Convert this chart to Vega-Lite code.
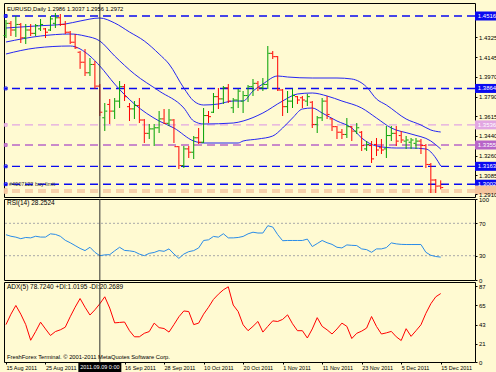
{
 "$schema": "https://vega.github.io/schema/vega-lite/v6.json",
 "background": "#FFFAD2",
 "padding": {"left": 1, "top": 2, "right": 0, "bottom": 0},
 "bounds": "flush",
 "spacing": 2,
 "config": {
  "font": "Liberation Sans",
  "view": {"stroke": "#000000", "strokeWidth": 1, "fill": "#FFFAD2"},
  "axis": {"labelFont": "Liberation Sans", "labelFontSize": 6, "labelColor": "#000000", "tickColor": "#000000", "tickSize": 2, "labelPadding": 1.5, "domain": false, "grid": false, "labelOverlap": false, "labelBound": false, "labelFlush": false},
  "title": {"anchor": "start", "font": "Liberation Sans", "fontSize": 6.5, "fontWeight": "normal", "color": "#000000", "frame": "group"}
 },
 "datasets": {
  "bars": [
   {"i":0,"o":1.4340,"h":1.4480,"l":1.4318,"c":1.4450,"rsi":55.9,"adx":43},
   {"i":1,"o":1.4450,"h":1.4471,"l":1.4336,"c":1.4390,"rsi":54,"adx":55},
   {"i":2,"o":1.4390,"h":1.4516,"l":1.4327,"c":1.4440,"rsi":52.9,"adx":65},
   {"i":3,"o":1.4440,"h":1.4453,"l":1.4273,"c":1.4320,"rsi":51,"adx":55},
   {"i":4,"o":1.4320,"h":1.4444,"l":1.4264,"c":1.4390,"rsi":52.5,"adx":43},
   {"i":5,"o":1.4390,"h":1.4444,"l":1.4336,"c":1.4360,"rsi":52,"adx":25},
   {"i":6,"o":1.4360,"h":1.4444,"l":1.4336,"c":1.4430,"rsi":54,"adx":35},
   {"i":7,"o":1.4400,"h":1.4489,"l":1.4381,"c":1.4440,"rsi":53,"adx":45.8},
   {"i":8,"o":1.4400,"h":1.4408,"l":1.4318,"c":1.4370,"rsi":53,"adx":38},
   {"i":9,"o":1.4390,"h":1.4516,"l":1.4381,"c":1.4490,"rsi":57,"adx":30.5},
   {"i":10,"o":1.4450,"h":1.4543,"l":1.4408,"c":1.4500,"rsi":56.3,"adx":35},
   {"i":11,"o":1.4500,"h":1.4534,"l":1.4426,"c":1.4440,"rsi":54,"adx":37},
   {"i":12,"o":1.4440,"h":1.4471,"l":1.4354,"c":1.4370,"rsi":49,"adx":40},
   {"i":13,"o":1.4370,"h":1.4381,"l":1.4264,"c":1.4280,"rsi":46,"adx":52},
   {"i":14,"o":1.4280,"h":1.4354,"l":1.4219,"c":1.4230,"rsi":42.5,"adx":63},
   {"i":15,"o":1.4190,"h":1.4201,"l":1.4040,"c":1.4100,"rsi":39,"adx":73},
   {"i":16,"o":1.4100,"h":1.4219,"l":1.3976,"c":1.4005,"rsi":36.3,"adx":63},
   {"i":17,"o":1.4005,"h":1.4138,"l":1.3976,"c":1.4080,"rsi":40.4,"adx":54},
   {"i":18,"o":1.4080,"h":1.4111,"l":1.3859,"c":1.3885,"rsi":34.2,"adx":60},
   {"i":19,"o":1.3885,"h":1.3904,"l":1.3616,"c":1.3650,"rsi":30,"adx":67},
   {"i":20,"o":1.3600,"h":1.3733,"l":1.3481,"c":1.3660,"rsi":31,"adx":75},
   {"i":21,"o":1.3720,"h":1.3769,"l":1.3544,"c":1.3660,"rsi":31.3,"adx":62},
   {"i":22,"o":1.3660,"h":1.3778,"l":1.3589,"c":1.3750,"rsi":36,"adx":45},
   {"i":23,"o":1.3750,"h":1.3931,"l":1.3688,"c":1.3880,"rsi":40.4,"adx":45.5},
   {"i":24,"o":1.3880,"h":1.3904,"l":1.3751,"c":1.3790,"rsi":36.5,"adx":46},
   {"i":25,"o":1.3700,"h":1.3733,"l":1.3571,"c":1.3680,"rsi":36,"adx":36},
   {"i":26,"o":1.3680,"h":1.3751,"l":1.3589,"c":1.3710,"rsi":35,"adx":29},
   {"i":27,"o":1.3710,"h":1.3778,"l":1.3553,"c":1.3580,"rsi":32,"adx":29},
   {"i":28,"o":1.3580,"h":1.3589,"l":1.3373,"c":1.3460,"rsi":30,"adx":33},
   {"i":29,"o":1.3460,"h":1.3544,"l":1.3409,"c":1.3500,"rsi":32.9,"adx":35},
   {"i":30,"o":1.3500,"h":1.3544,"l":1.3346,"c":1.3510,"rsi":34,"adx":44.7},
   {"i":31,"o":1.3510,"h":1.3661,"l":1.3463,"c":1.3590,"rsi":36.3,"adx":39.5},
   {"i":32,"o":1.3590,"h":1.3679,"l":1.3544,"c":1.3550,"rsi":35.4,"adx":38.5},
   {"i":33,"o":1.3550,"h":1.3679,"l":1.3526,"c":1.3580,"rsi":38.4,"adx":34.4},
   {"i":34,"o":1.3580,"h":1.3589,"l":1.3373,"c":1.3340,"rsi":32.1,"adx":43},
   {"i":35,"o":1.3340,"h":1.3346,"l":1.3139,"c":1.3170,"rsi":26.7,"adx":52},
   {"i":36,"o":1.3170,"h":1.3346,"l":1.3148,"c":1.3320,"rsi":32,"adx":58.7},
   {"i":37,"o":1.3320,"h":1.3346,"l":1.3238,"c":1.3290,"rsi":35,"adx":58},
   {"i":38,"o":1.3290,"h":1.3436,"l":1.3229,"c":1.3420,"rsi":36.3,"adx":43},
   {"i":39,"o":1.3420,"h":1.3508,"l":1.3364,"c":1.3380,"rsi":39.6,"adx":44.7},
   {"i":40,"o":1.3380,"h":1.3688,"l":1.3373,"c":1.3620,"rsi":48.8,"adx":55},
   {"i":41,"o":1.3620,"h":1.3661,"l":1.3553,"c":1.3610,"rsi":49.6,"adx":63},
   {"i":42,"o":1.3650,"h":1.3823,"l":1.3643,"c":1.3790,"rsi":53.8,"adx":72},
   {"i":43,"o":1.3790,"h":1.3868,"l":1.3679,"c":1.3770,"rsi":52.9,"adx":78},
   {"i":44,"o":1.3770,"h":1.3886,"l":1.3724,"c":1.3870,"rsi":57.1,"adx":83},
   {"i":45,"o":1.3870,"h":1.3904,"l":1.3733,"c":1.3750,"rsi":52,"adx":86.5},
   {"i":46,"o":1.3690,"h":1.3778,"l":1.3643,"c":1.3760,"rsi":52,"adx":65.5},
   {"i":47,"o":1.3760,"h":1.3859,"l":1.3688,"c":1.3840,"rsi":52.5,"adx":58},
   {"i":48,"o":1.3750,"h":1.3841,"l":1.3643,"c":1.3800,"rsi":53.8,"adx":42.8},
   {"i":49,"o":1.3800,"h":1.3895,"l":1.3742,"c":1.3880,"rsi":57,"adx":36},
   {"i":50,"o":1.3880,"h":1.3949,"l":1.3796,"c":1.3910,"rsi":59,"adx":41},
   {"i":51,"o":1.3910,"h":1.3931,"l":1.3841,"c":1.3870,"rsi":58,"adx":46.6},
   {"i":52,"o":1.3870,"h":1.3958,"l":1.3841,"c":1.3900,"rsi":58,"adx":34.4},
   {"i":53,"o":1.3900,"h":1.4246,"l":1.3859,"c":1.4180,"rsi":67,"adx":41},
   {"i":54,"o":1.4180,"h":1.4201,"l":1.4129,"c":1.4150,"rsi":65.4,"adx":47.3},
   {"i":55,"o":1.4150,"h":1.4156,"l":1.3841,"c":1.3850,"rsi":56,"adx":46.6},
   {"i":56,"o":1.3850,"h":1.3859,"l":1.3616,"c":1.3700,"rsi":48.5,"adx":49},
   {"i":57,"o":1.3700,"h":1.3841,"l":1.3643,"c":1.3750,"rsi":48.8,"adx":54.2},
   {"i":58,"o":1.3750,"h":1.3859,"l":1.3688,"c":1.3800,"rsi":48.8,"adx":44},
   {"i":59,"o":1.3790,"h":1.3796,"l":1.3724,"c":1.3760,"rsi":48.8,"adx":36},
   {"i":60,"o":1.3780,"h":1.3796,"l":1.3688,"c":1.3760,"rsi":48.8,"adx":36},
   {"i":61,"o":1.3750,"h":1.3814,"l":1.3706,"c":1.3790,"rsi":50.5,"adx":27.6},
   {"i":62,"o":1.3740,"h":1.3751,"l":1.3508,"c":1.3540,"rsi":41.3,"adx":38},
   {"i":63,"o":1.3540,"h":1.3616,"l":1.3463,"c":1.3600,"rsi":45,"adx":51},
   {"i":64,"o":1.3600,"h":1.3778,"l":1.3571,"c":1.3750,"rsi":48.8,"adx":41},
   {"i":65,"o":1.3750,"h":1.3796,"l":1.3589,"c":1.3630,"rsi":46,"adx":37},
   {"i":66,"o":1.3590,"h":1.3598,"l":1.3481,"c":1.3520,"rsi":44,"adx":32.2},
   {"i":67,"o":1.3520,"h":1.3526,"l":1.3409,"c":1.3470,"rsi":40.4,"adx":38},
   {"i":68,"o":1.3470,"h":1.3499,"l":1.3409,"c":1.3450,"rsi":39.6,"adx":44.7},
   {"i":69,"o":1.3450,"h":1.3598,"l":1.3418,"c":1.3520,"rsi":43.3,"adx":41},
   {"i":70,"o":1.3520,"h":1.3526,"l":1.3391,"c":1.3480,"rsi":42.8,"adx":27},
   {"i":71,"o":1.3480,"h":1.3553,"l":1.3454,"c":1.3510,"rsi":42.5,"adx":33},
   {"i":72,"o":1.3470,"h":1.3481,"l":1.3301,"c":1.3350,"rsi":38.4,"adx":35.5},
   {"i":73,"o":1.3320,"h":1.3391,"l":1.3301,"c":1.3360,"rsi":37.5,"adx":39},
   {"i":74,"o":1.3350,"h":1.3391,"l":1.3193,"c":1.3230,"rsi":34.2,"adx":52.3},
   {"i":75,"o":1.3360,"h":1.3418,"l":1.3256,"c":1.3310,"rsi":38.4,"adx":40.9},
   {"i":76,"o":1.3330,"h":1.3409,"l":1.3274,"c":1.3310,"rsi":38.4,"adx":32.2},
   {"i":77,"o":1.3320,"h":1.3526,"l":1.3238,"c":1.3440,"rsi":40,"adx":33.5},
   {"i":78,"o":1.3440,"h":1.3526,"l":1.3391,"c":1.3460,"rsi":45.8,"adx":35.2},
   {"i":79,"o":1.3460,"h":1.3526,"l":1.3346,"c":1.3390,"rsi":44.6,"adx":29},
   {"i":80,"o":1.3440,"h":1.3481,"l":1.3373,"c":1.3400,"rsi":44,"adx":24.7},
   {"i":81,"o":1.3390,"h":1.3436,"l":1.3319,"c":1.3400,"rsi":43.8,"adx":38.3},
   {"i":82,"o":1.3380,"h":1.3418,"l":1.3319,"c":1.3400,"rsi":43.8,"adx":29.5},
   {"i":83,"o":1.3370,"h":1.3418,"l":1.3319,"c":1.3390,"rsi":43.8,"adx":36},
   {"i":84,"o":1.3390,"h":1.3409,"l":1.3274,"c":1.3350,"rsi":43.8,"adx":42.8},
   {"i":85,"o":1.3350,"h":1.3364,"l":1.3148,"c":1.3180,"rsi":34.2,"adx":56},
   {"i":86,"o":1.3180,"h":1.3193,"l":1.2923,"c":1.3040,"rsi":30.5,"adx":67},
   {"i":87,"o":1.3040,"h":1.3049,"l":1.2923,"c":1.2985,"rsi":29,"adx":75},
   {"i":88,"o":1.2986,"h":1.3037,"l":1.2956,"c":1.2972,"rsi":28.25,"adx":78.7}
  ],
  "bands": [
   {"b":"upper","i":0,"v":1.4408},{"b":"upper","i":6,"v":1.4426},{"b":"upper","i":12,"v":1.4444},{"b":"upper","i":15,"v":1.4471},{"b":"upper","i":19,"v":1.4498},{"b":"upper","i":22,"v":1.4453},{"b":"upper","i":25,"v":1.4372},{"b":"upper","i":28,"v":1.4291},{"b":"upper","i":31,"v":1.4174},{"b":"upper","i":33,"v":1.4084},{"b":"upper","i":36,"v":1.3868},{"b":"upper","i":38,"v":1.3751},{"b":"upper","i":40,"v":1.3715},{"b":"upper","i":43,"v":1.3724},{"b":"upper","i":46,"v":1.3751},{"b":"upper","i":48,"v":1.3751},{"b":"upper","i":50,"v":1.3841},{"b":"upper","i":52,"v":1.3904},{"b":"upper","i":55,"v":1.3976},{"b":"upper","i":57,"v":1.3967},{"b":"upper","i":62,"v":1.3958},{"b":"upper","i":67,"v":1.3958},{"b":"upper","i":70,"v":1.3949},{"b":"upper","i":73,"v":1.3877},{"b":"upper","i":75,"v":1.3769},{"b":"upper","i":77,"v":1.3715},{"b":"upper","i":81,"v":1.3589},{"b":"upper","i":84,"v":1.3535},{"b":"upper","i":86,"v":1.3490},{"b":"upper","i":88,"v":1.3472},
   {"b":"mid","i":0,"v":1.4282},{"b":"mid","i":7,"v":1.4336},{"b":"mid","i":13,"v":1.4354},{"b":"mid","i":16,"v":1.4336},{"b":"mid","i":19,"v":1.4291},{"b":"mid","i":22,"v":1.4156},{"b":"mid","i":26,"v":1.3994},{"b":"mid","i":31,"v":1.3841},{"b":"mid","i":36,"v":1.3688},{"b":"mid","i":38,"v":1.3571},{"b":"mid","i":40,"v":1.3544},{"b":"mid","i":46,"v":1.3553},{"b":"mid","i":48,"v":1.3571},{"b":"mid","i":52,"v":1.3643},{"b":"mid","i":56,"v":1.3751},{"b":"mid","i":59,"v":1.3814},{"b":"mid","i":62,"v":1.3823},{"b":"mid","i":65,"v":1.3796},{"b":"mid","i":68,"v":1.3751},{"b":"mid","i":72,"v":1.3688},{"b":"mid","i":75,"v":1.3598},{"b":"mid","i":78,"v":1.3508},{"b":"mid","i":82,"v":1.3454},{"b":"mid","i":86,"v":1.3391},{"b":"mid","i":88,"v":1.3319},
   {"b":"lower","i":0,"v":1.4174},{"b":"lower","i":6,"v":1.4228},{"b":"lower","i":13,"v":1.4246},{"b":"lower","i":17,"v":1.4156},{"b":"lower","i":19,"v":1.4066},{"b":"lower","i":22,"v":1.3904},{"b":"lower","i":26,"v":1.3724},{"b":"lower","i":31,"v":1.3571},{"b":"lower","i":34,"v":1.3508},{"b":"lower","i":38,"v":1.3391},{"b":"lower","i":40,"v":1.3373},{"b":"lower","i":47,"v":1.3373},{"b":"lower","i":48,"v":1.3391},{"b":"lower","i":51,"v":1.3409},{"b":"lower","i":54,"v":1.3436},{"b":"lower","i":56,"v":1.3508},{"b":"lower","i":58,"v":1.3598},{"b":"lower","i":60,"v":1.3679},{"b":"lower","i":62,"v":1.3688},{"b":"lower","i":64,"v":1.3643},{"b":"lower","i":67,"v":1.3571},{"b":"lower","i":70,"v":1.3508},{"b":"lower","i":72,"v":1.3418},{"b":"lower","i":75,"v":1.3346},{"b":"lower","i":79,"v":1.3328},{"b":"lower","i":82,"v":1.3328},{"b":"lower","i":85,"v":1.3319},{"b":"lower","i":87,"v":1.3238},{"b":"lower","i":88,"v":1.3166}
  ],
  "levels": [
   {"p":1.4516,"t":"blue"},{"p":1.3864,"t":"blue"},{"p":1.3536,"t":"violet"},{"p":1.3355,"t":"purple"},{"p":1.3163,"t":"blue"},{"p":1.3002,"t":"blue"},{"p":1.2950,"t":"peach"},{"p":1.2932,"t":"peach"}
  ]
 },
 "vconcat": [
  {
   "width": 471, "height": 194,
   "title": {"text": "EURUSD,Daily  1.2986 1.3037 1.2956 1.2972", "offset": -9, "dx": 3, "fontSize": 5.8},
   "encoding": {
    "y": {"field": "p", "type": "quantitative", "scale": {"domain": [1.2887, 1.4633], "nice": false, "zero": false}, "axis": {"orient": "right", "values": [1.2910, 1.3085, 1.3260, 1.3440, 1.3615, 1.3790, 1.3970, 1.4145, 1.4325], "format": ".4f", "title": null, "zindex": 1}}
   },
   "layer": [
    {
     "data": {"name": "levels"},
     "mark": {"type": "rule", "strokeDash": [8, 5], "strokeWidth": 1.4},
     "encoding": {
      "color": {"field": "t", "type": "nominal", "scale": {"domain": ["blue", "violet", "purple", "peach"], "range": ["#0A0AF0", "#E2A6E2", "#B865C8", "#F5C49E"]}, "legend": null}
     }
    },
    {
     "data": {"name": "bands"},
     "mark": {"type": "line", "color": "#2626F2", "strokeWidth": 1, "interpolate": "monotone"},
     "encoding": {
      "x": {"field": "i", "type": "quantitative", "scale": {"domain": [-0.4, 94.94], "nice": false, "zero": false}, "axis": null},
      "y": {"field": "v", "type": "quantitative"},
      "detail": {"field": "b", "type": "nominal"}
     }
    },
    {
     "data": {"name": "levels"},
     "mark": {"type": "point", "shape": "square", "size": 8, "filled": false, "strokeWidth": 1, "opacity": 1},
     "encoding": {
      "x": {"datum": -0.05, "axis": null},
      "color": {"field": "t", "type": "nominal", "legend": null}
     }
    },
    {
     "data": {"name": "bars"},
     "mark": {"type": "rule", "strokeWidth": 1},
     "encoding": {
      "x": {"field": "i", "type": "quantitative", "axis": null},
      "y": {"field": "l", "type": "quantitative"},
      "y2": {"field": "h"},
      "color": {"condition": {"test": "datum.c >= datum.o", "value": "#00A000"}, "value": "#FF0000"}
     }
    },
    {
     "data": {"name": "bars"},
     "mark": {"type": "tick", "orient": "horizontal", "size": 2, "thickness": 1, "xOffset": -1.5, "opacity": 1},
     "encoding": {
      "x": {"field": "i", "type": "quantitative", "axis": null},
      "y": {"field": "o", "type": "quantitative"},
      "color": {"condition": {"test": "datum.c >= datum.o", "value": "#00A000"}, "value": "#FF0000"}
     }
    },
    {
     "data": {"name": "bars"},
     "mark": {"type": "tick", "orient": "horizontal", "size": 2, "thickness": 1, "xOffset": 1.5, "opacity": 1},
     "encoding": {
      "x": {"field": "i", "type": "quantitative", "axis": null},
      "y": {"field": "c", "type": "quantitative"},
      "color": {"condition": {"test": "datum.c >= datum.o", "value": "#00A000"}, "value": "#FF0000"}
     }
    },
    {
     "data": {"values": [{"s": "crosshair"}]},
     "mark": {"type": "rule", "color": "#303030", "strokeWidth": 1},
     "encoding": {"x": {"datum": 19, "axis": null}, "y": null}
    },
    {
     "data": {"values": [{"p": 1.3002, "s": "#4007122 buy limit"}]},
     "mark": {"type": "text", "align": "left", "baseline": "middle", "fontSize": 5.5, "color": "#333333", "dx": 1},
     "encoding": {
      "x": {"datum": 0.4, "axis": null},
      "text": {"field": "s"}
     }
    },
    {
     "data": {"name": "levels"},
     "transform": [{"filter": "datum.p != 1.2932"}],
     "mark": {"type": "tick", "orient": "horizontal", "size": 24, "thickness": 9, "opacity": 1},
     "encoding": {
      "x": {"datum": 97.37, "axis": null},
      "color": {"field": "t", "type": "nominal", "legend": null}
     }
    },
    {
     "data": {"name": "levels"},
     "transform": [{"filter": "datum.t != 'peach'"}],
     "mark": {"type": "text", "fontSize": 6, "color": "#FFFFFF", "align": "center", "baseline": "middle"},
     "encoding": {
      "x": {"datum": 97.37, "axis": null},
      "text": {"field": "p", "type": "quantitative", "format": ".4f"}
     }
    }
   ]
  },
  {
   "width": 471, "height": 81,
   "title": {"text": "RSI(14) 28.2524", "offset": -10, "dx": 3},
   "encoding": {
    "x": {"field": "i", "type": "quantitative", "scale": {"domain": [-0.4, 94.94], "nice": false, "zero": false}, "axis": null},
    "y": {"field": "rsi", "type": "quantitative", "scale": {"domain": [0, 100], "nice": false, "zero": false}, "axis": {"orient": "right", "values": [0, 30, 70, 100], "title": null}}
   },
   "layer": [
    {
     "data": {"values": [{"rsi": 30}, {"rsi": 70}]},
     "mark": {"type": "rule", "color": "#A8A8A8", "strokeDash": [2, 2], "strokeWidth": 1},
     "encoding": {"x": null}
    },
    {
     "data": {"name": "bars"},
     "mark": {"type": "line", "color": "#2A8CE8", "strokeWidth": 1}
    },
    {
     "data": {"values": [{"i": 19}]},
     "mark": {"type": "rule", "color": "#303030", "strokeWidth": 1},
     "encoding": {"y": null}
    }
   ]
  },
  {
   "width": 471, "height": 80,
   "title": {"text": "ADX(5) 78.7240 +DI:1.0195 -DI:20.2689", "offset": -9, "dx": 3},
   "layer": [
    {
     "data": {"name": "bars"},
     "mark": {"type": "line", "color": "#FF0000", "strokeWidth": 1},
     "encoding": {
      "x": {"field": "i", "type": "quantitative", "scale": {"domain": [-0.4, 94.94], "nice": false, "zero": false}, "axis": {"orient": "bottom", "values": [0, 8, 24, 32, 40, 48, 56, 64, 72, 80, 88], "labelExpr": "['15 Aug 2011','25 Aug 2011','6 Sep 2011','16 Sep 2011','28 Sep 2011','10 Oct 2011','20 Oct 2011','1 Nov 2011','11 Nov 2011','23 Nov 2011','5 Dec 2011','15 Dec 2011'][round(datum.value/8)]", "labelAlign": "left", "labelBaseline": "top", "labelFontSize": 5.5, "tickSize": 2, "labelPadding": 1, "title": null}},
      "y": {"field": "adx", "type": "quantitative", "scale": {"domain": [0, 92], "nice": false, "zero": false}, "axis": {"orient": "right", "values": [0, 21, 43, 65, 87], "title": null}}
     }
    },
    {
     "data": {"values": [{"s": "crosshair"}]},
     "mark": {"type": "rule", "color": "#303030", "strokeWidth": 1},
     "encoding": {
      "x": {"datum": 19, "axis": {"orient": "bottom", "values": [0, 8, 24, 32, 40, 48, 56, 64, 72, 80, 88], "labelExpr": "['15 Aug 2011','25 Aug 2011','6 Sep 2011','16 Sep 2011','28 Sep 2011','10 Oct 2011','20 Oct 2011','1 Nov 2011','11 Nov 2011','23 Nov 2011','5 Dec 2011','15 Dec 2011'][round(datum.value/8)]", "labelAlign": "left", "labelBaseline": "top", "labelFontSize": 5.5, "tickSize": 2, "labelPadding": 1, "title": null}}
     }
    },
    {
     "data": {"values": [{"s": "FreshForex Terminal. © 2001-2011 MetaQuotes Software Corp."}]},
     "mark": {"type": "text", "align": "left", "baseline": "middle", "fontSize": 5.8, "color": "#000000", "dx": 3},
     "encoding": {
      "x": {"datum": -0.4, "axis": {"orient": "bottom", "values": [0, 8, 24, 32, 40, 48, 56, 64, 72, 80, 88], "labelExpr": "['15 Aug 2011','25 Aug 2011','6 Sep 2011','16 Sep 2011','28 Sep 2011','10 Oct 2011','20 Oct 2011','1 Nov 2011','11 Nov 2011','23 Nov 2011','5 Dec 2011','15 Dec 2011'][round(datum.value/8)]", "labelAlign": "left", "labelBaseline": "top", "labelFontSize": 5.5, "tickSize": 2, "labelPadding": 1, "title": null}},
      "y": {"datum": 5.7, "axis": {"orient": "right", "values": [0, 21, 43, 65, 87], "title": null}},
      "text": {"field": "s"}
     }
    },
    {
     "data": {"values": [{"s": "2011.09.09 0:00"}]},
     "mark": {"type": "tick", "orient": "horizontal", "size": 43, "thickness": 9, "color": "#000000", "opacity": 1},
     "encoding": {
      "x": {"datum": 19, "axis": {"orient": "bottom", "values": [0, 8, 24, 32, 40, 48, 56, 64, 72, 80, 88], "labelExpr": "['15 Aug 2011','25 Aug 2011','6 Sep 2011','16 Sep 2011','28 Sep 2011','10 Oct 2011','20 Oct 2011','1 Nov 2011','11 Nov 2011','23 Nov 2011','5 Dec 2011','15 Dec 2011'][round(datum.value/8)]", "labelAlign": "left", "labelBaseline": "top", "labelFontSize": 5.5, "tickSize": 2, "labelPadding": 1, "title": null}},
      "y": {"datum": -6.3, "axis": {"orient": "right", "values": [0, 21, 43, 65, 87], "title": null}}
     }
    },
    {
     "data": {"values": [{"s": "2011.09.09 0:00"}]},
     "mark": {"type": "text", "align": "center", "baseline": "middle", "fontSize": 5.5, "color": "#FFFFFF"},
     "encoding": {
      "x": {"datum": 19, "axis": {"orient": "bottom", "values": [0, 8, 24, 32, 40, 48, 56, 64, 72, 80, 88], "labelExpr": "['15 Aug 2011','25 Aug 2011','6 Sep 2011','16 Sep 2011','28 Sep 2011','10 Oct 2011','20 Oct 2011','1 Nov 2011','11 Nov 2011','23 Nov 2011','5 Dec 2011','15 Dec 2011'][round(datum.value/8)]", "labelAlign": "left", "labelBaseline": "top", "labelFontSize": 5.5, "tickSize": 2, "labelPadding": 1, "title": null}},
      "y": {"datum": -6.3, "axis": {"orient": "right", "values": [0, 21, 43, 65, 87], "title": null}},
      "text": {"field": "s"}
     }
    }
   ]
  }
 ]
}
